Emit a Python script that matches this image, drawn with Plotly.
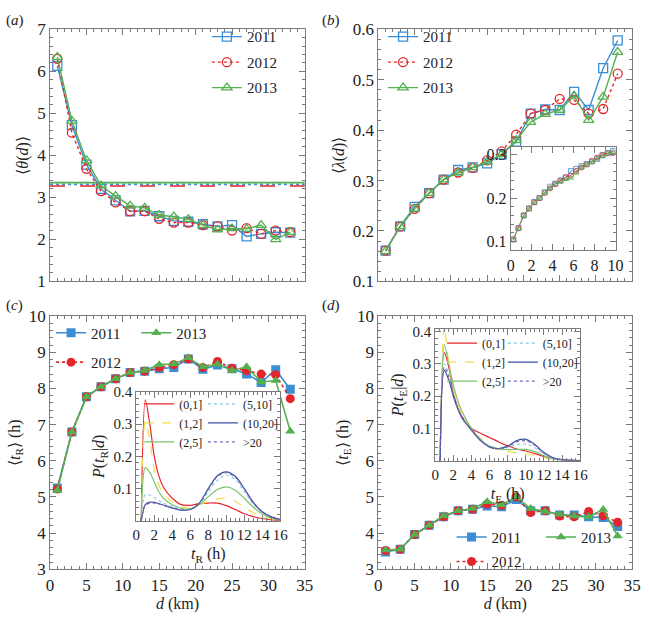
import plotly.graph_objects as go

# ---------------- data ----------------
years = ["2011", "2012", "2013"]
d_km = [1, 3, 5, 7, 9, 11, 13, 15, 17, 19, 21, 23, 25, 27, 29, 31, 33]

theta_2011 = [6.13, 4.72, 3.78, 3.20, 2.93, 2.67, 2.68, 2.55, 2.44, 2.42, 2.36, 2.31, 2.34, 2.07, 2.13, 2.17, 2.16]
theta_2012 = [6.30, 4.54, 3.68, 3.15, 2.88, 2.67, 2.67, 2.49, 2.40, 2.40, 2.34, 2.31, 2.21, 2.27, 2.13, 2.21, 2.17]
theta_2013 = [6.34, 4.82, 3.88, 3.28, 3.03, 2.80, 2.75, 2.58, 2.54, 2.48, 2.34, 2.23, 2.26, 2.25, 2.34, 2.00, 2.17]
theta_avg = [3.31, 3.27, 3.35]

lambda_2011 = [0.161, 0.209, 0.248, 0.275, 0.302, 0.321, 0.326, 0.334, 0.352, 0.377, 0.433, 0.441, 0.440, 0.476, 0.440, 0.523, 0.578]
lambda_2012 = [0.161, 0.209, 0.244, 0.275, 0.302, 0.316, 0.325, 0.340, 0.358, 0.391, 0.433, 0.440, 0.462, 0.460, 0.433, 0.442, 0.512]
lambda_2013 = [0.160, 0.209, 0.244, 0.275, 0.302, 0.316, 0.326, 0.337, 0.352, 0.380, 0.416, 0.432, 0.440, 0.468, 0.420, 0.466, 0.555]

lam_in_d = [0.25, 0.75, 1.25, 1.75, 2.25, 2.75, 3.25, 3.75, 4.25, 4.75,
            5.25, 5.75, 6.25, 6.75, 7.25, 7.75, 8.25, 8.75, 9.25, 9.75]
lam_in_2011 = [0.105, 0.131, 0.160, 0.176, 0.191, 0.200, 0.213, 0.226, 0.233, 0.240,
               0.247, 0.262, 0.267, 0.273, 0.278, 0.284, 0.290, 0.298, 0.303, 0.308]
lam_in_2012 = [0.105, 0.131, 0.160, 0.176, 0.190, 0.200, 0.212, 0.222, 0.232, 0.240,
               0.248, 0.252, 0.262, 0.270, 0.277, 0.285, 0.293, 0.299, 0.303, 0.303]
lam_in_2013 = [0.104, 0.130, 0.160, 0.175, 0.190, 0.200, 0.212, 0.222, 0.232, 0.238,
               0.243, 0.246, 0.258, 0.270, 0.277, 0.283, 0.290, 0.297, 0.302, 0.306]

tR_2011 = [5.25, 6.80, 7.77, 8.05, 8.27, 8.44, 8.48, 8.55, 8.58, 8.82, 8.53, 8.65, 8.55, 8.40, 8.17, 8.52, 7.98]
tR_2012 = [5.22, 6.80, 7.77, 8.05, 8.27, 8.44, 8.48, 8.58, 8.66, 8.82, 8.58, 8.75, 8.56, 8.50, 8.40, 8.38, 7.72]
tR_2013 = [5.18, 6.80, 7.77, 8.05, 8.27, 8.44, 8.50, 8.66, 8.68, 8.85, 8.60, 8.67, 8.50, 8.60, 8.18, 8.22, 6.82]

tE_2011 = [3.48, 3.55, 3.96, 4.22, 4.45, 4.62, 4.66, 4.75, 4.73, 4.93, 4.62, 4.62, 4.50, 4.50, 4.45, 4.43, 4.18]
tE_2012 = [3.52, 3.55, 3.96, 4.22, 4.45, 4.62, 4.66, 4.80, 4.77, 5.00, 4.57, 4.62, 4.47, 4.45, 4.60, 4.48, 4.30]
tE_2013 = [3.53, 3.55, 3.96, 4.22, 4.48, 4.62, 4.68, 4.87, 4.78, 5.00, 4.68, 4.60, 4.52, 4.47, 4.45, 4.65, 3.92]

d_bins = ["(0,1]", "(1,2]", "(2,5]", "(5,10]", "(10,20]", ">20"]
t_hours = [0.55, 1.0, 1.5, 2, 2.5, 3, 4, 5, 6, 7, 8, 9, 10, 11, 12, 13, 14, 15, 16]

pR_0_1   = [0, 0.375, 0.30, 0.20, 0.14, 0.105, 0.070, 0.050, 0.048, 0.053, 0.055, 0.055, 0.047, 0.035, 0.022, 0.013, 0.007, 0.003, 0.001]
pR_1_2   = [0, 0.310, 0.25, 0.16, 0.11, 0.085, 0.058, 0.043, 0.040, 0.050, 0.060, 0.068, 0.070, 0.060, 0.042, 0.025, 0.013, 0.006, 0.002]
pR_2_5   = [0, 0.165, 0.15, 0.12, 0.09, 0.070, 0.050, 0.039, 0.037, 0.050, 0.075, 0.097, 0.105, 0.095, 0.070, 0.042, 0.021, 0.009, 0.003]
pR_5_10  = [0, 0.082, 0.080, 0.072, 0.062, 0.055, 0.044, 0.036, 0.036, 0.052, 0.090, 0.125, 0.142, 0.128, 0.092, 0.052, 0.026, 0.011, 0.004]
pR_10_20 = [0, 0.050, 0.058, 0.057, 0.053, 0.049, 0.040, 0.033, 0.035, 0.055, 0.100, 0.140, 0.152, 0.138, 0.100, 0.057, 0.028, 0.012, 0.004]
pR_20    = [0, 0.048, 0.055, 0.055, 0.052, 0.048, 0.040, 0.033, 0.035, 0.053, 0.097, 0.137, 0.149, 0.135, 0.098, 0.055, 0.027, 0.011, 0.004]

pE_0_1   = [0, 0.335, 0.29, 0.21, 0.165, 0.135, 0.100, 0.085, 0.072, 0.058, 0.046, 0.036, 0.030, 0.022, 0.013, 0.006, 0.002, 0.001, 0]
pE_1_2   = [0, 0.420, 0.30, 0.22, 0.170, 0.140, 0.095, 0.070, 0.045, 0.033, 0.028, 0.025, 0.022, 0.016, 0.009, 0.004, 0.001, 0, 0]
pE_2_5   = [0, 0.360, 0.30, 0.235, 0.185, 0.150, 0.100, 0.065, 0.045, 0.037, 0.034, 0.035, 0.035, 0.028, 0.015, 0.006, 0.002, 0.001, 0]
pE_5_10  = [0, 0.300, 0.27, 0.21, 0.165, 0.135, 0.095, 0.065, 0.043, 0.038, 0.042, 0.050, 0.052, 0.040, 0.020, 0.008, 0.003, 0.001, 0]
pE_10_20 = [0, 0.280, 0.25, 0.20, 0.160, 0.130, 0.095, 0.062, 0.042, 0.037, 0.045, 0.062, 0.066, 0.050, 0.025, 0.009, 0.003, 0.001, 0]
pE_20    = [0, 0.290, 0.26, 0.205, 0.162, 0.132, 0.095, 0.063, 0.042, 0.037, 0.044, 0.058, 0.062, 0.047, 0.023, 0.008, 0.003, 0.001, 0]

# ---------------- style ----------------
FONT = "Liberation Serif, Times New Roman, Times, serif"
C_BLUE, C_RED, C_GREEN = "#3b8ed3", "#e4262c", "#55b04f"
year_colors = [C_BLUE, C_RED, C_GREEN]
year_dash = ["solid", "dot", "solid"]
open_sym = ["square-open", "circle-open", "triangle-up-open"]
fill_sym = ["square", "circle", "triangle-up"]
bin_colors = ["#e8262b", "#f0dc50", "#7cc46a", "#86c7e0", "#3b4ea0", "#7a66b8"]
bin_dash = ["solid", "dash", "solid", "dot", "solid", "dot"]
AX = "#7a7a7a"

fig = go.Figure()

# (a) mean lines
for i in range(3):
    fig.add_trace(go.Scatter(x=[0, 35], y=[theta_avg[i]] * 2, mode="lines", showlegend=False,
                             line=dict(color=year_colors[i], width=1.6,
                                       dash=["dot", "longdash", "solid"][i]),
                             xaxis="x", yaxis="y", legend="legend",
                             legendgroup="a" + years[i], hoverinfo="skip"))
# (a)
for i, ys in enumerate([theta_2011, theta_2012, theta_2013]):
    fig.add_trace(go.Scatter(x=d_km, y=ys, name=years[i], mode="lines+markers",
                             line=dict(color=year_colors[i], width=1.4, dash=year_dash[i]),
                             marker=dict(symbol=open_sym[i], size=9, line=dict(width=1.3, color=year_colors[i])),
                             xaxis="x", yaxis="y", legend="legend",
                             legendgroup="a" + years[i]))
# (b)
for i, ys in enumerate([lambda_2011, lambda_2012, lambda_2013]):
    fig.add_trace(go.Scatter(x=d_km, y=ys, name=years[i], mode="lines+markers",
                             line=dict(color=year_colors[i], width=1.4, dash=year_dash[i]),
                             marker=dict(symbol=open_sym[i], size=9, line=dict(width=1.3, color=year_colors[i])),
                             xaxis="x2", yaxis="y2", legend="legend2",
                             legendgroup="b" + years[i]))
# (b) inset
for i, ys in enumerate([lam_in_2011, lam_in_2012, lam_in_2013]):
    fig.add_trace(go.Scatter(x=lam_in_d, y=ys, name=years[i], mode="lines+markers", showlegend=False,
                             line=dict(color=year_colors[i], width=0.8),
                             marker=dict(symbol=open_sym[i], size=5, line=dict(width=0.8, color=year_colors[i])),
                             xaxis="x5", yaxis="y5", legend="legend2", legendgroup="b" + years[i]))
# (c)
c_leg = ["legend3", "legend5", "legend4"]
for i, ys in enumerate([tR_2011, tR_2012, tR_2013]):
    fig.add_trace(go.Scatter(x=d_km, y=ys, name=years[i], mode="lines+markers",
                             line=dict(color=year_colors[i], width=1.6, dash=year_dash[i]),
                             marker=dict(symbol=fill_sym[i], size=9, color=year_colors[i]),
                             xaxis="x3", yaxis="y3", legend=c_leg[i]))
# (d)
d_leg = ["legend6", "legend8", "legend7"]
for i, ys in enumerate([tE_2011, tE_2012, tE_2013]):
    fig.add_trace(go.Scatter(x=d_km, y=ys, name=years[i], mode="lines+markers",
                             line=dict(color=year_colors[i], width=1.6, dash=year_dash[i]),
                             marker=dict(symbol=fill_sym[i], size=9, color=year_colors[i]),
                             xaxis="x4", yaxis="y4", legend=d_leg[i]))
# (c) inset
for i, ys in enumerate([pR_0_1, pR_1_2, pR_2_5, pR_5_10, pR_10_20, pR_20]):
    fig.add_trace(go.Scatter(x=t_hours, y=ys, name=d_bins[i], mode="lines",
                             line=dict(color=bin_colors[i], width=1.2, dash=bin_dash[i],
                                       shape="spline", smoothing=0.8),
                             xaxis="x6", yaxis="y6", legend="legend9" if i < 3 else "legend10"))
# (d) inset
for i, ys in enumerate([pE_0_1, pE_1_2, pE_2_5, pE_5_10, pE_10_20, pE_20]):
    fig.add_trace(go.Scatter(x=t_hours, y=ys, name=d_bins[i], mode="lines",
                             line=dict(color=bin_colors[i], width=1.2, dash=bin_dash[i],
                                       shape="spline", smoothing=0.8),
                             xaxis="x7", yaxis="y7", legend="legend11" if i < 3 else "legend12"))


def axis(domain, rng, dtick, minor, anchor, labels=True, title=None, tsize=17, tickvals=None, standoff=4):
    a = dict(domain=domain, range=rng, anchor=anchor, showline=True, linecolor=AX, linewidth=1,
             mirror="allticks", ticks="inside", ticklen=6, tickcolor=AX, tickwidth=1,
             showgrid=False, zeroline=False, showticklabels=labels,
             tickfont=dict(size=tsize, color="#222", family=FONT),
             minor=dict(ticks="inside", ticklen=3, dtick=minor, tickcolor=AX, showgrid=False))
    if tickvals is not None:
        a["tickvals"] = tickvals
    else:
        a["dtick"] = dtick
        a["tick0"] = 0
    if title:
        a["title"] = dict(text=title, font=dict(size=16, color="#222", family=FONT), standoff=standoff)
    return a


XL = [0.0724, 0.4730]
XR = [0.5886, 0.9877]
YT = [0.5453, 0.9660]
YB = [0.0647, 0.4871]

dkm = "<i>d</i> (km)"
layout = dict(
    width=649, height=618, margin=dict(l=0, r=0, t=0, b=0),
    paper_bgcolor="white", plot_bgcolor="white",
    font=dict(family=FONT, color="#222"),
    xaxis=axis(XL, [0, 35], 5, 1, "y", labels=False),
    yaxis=axis(YT, [1, 7], 1, 0.2, "x", title="⟨<i>θ</i>(<i>d</i>)⟩"),
    xaxis2=axis(XR, [0, 35], 5, 1, "y2", labels=False),
    yaxis2=axis(YT, [0.1, 0.6], 0.1, 0.02, "x2", title="⟨<i>λ</i>(<i>d</i>)⟩", tickvals=[0.1, 0.2, 0.3, 0.4, 0.5, 0.6]),
    xaxis3=axis(XL, [0, 35], 5, 1, "y3", title=dkm),
    yaxis3=axis(YB, [3, 10], 1, 0.2, "x3", title="⟨<i>t</i><sub>R</sub>⟩ (h)"),
    xaxis4=axis(XR, [0, 35], 5, 1, "y4", title=dkm),
    yaxis4=axis(YB, [3, 10], 1, 0.2, "x4", title="⟨<i>t</i><sub>E</sub>⟩ (h)"),
    xaxis5=axis([0.7966, 0.9615], [0, 10], 2, 1, "y5", tsize=16),
    yaxis5=axis([0.5971, 0.7702], [0.08, 0.318], 0.1, 0.02, "x5", tsize=16, tickvals=[0.1, 0.2, 0.3]),
    xaxis6=axis([0.2080, 0.4345], [0, 16], 2, 0.5, "y6", tsize=15, title="<i>t</i><sub>R</sub> (h)", standoff=6),
    yaxis6=axis([0.1456, 0.3608], [0, 0.4], 0.1, 0.02, "x6", tsize=15, tickvals=[0.1, 0.2, 0.3, 0.4],
                title="<i>P</i>(<i>t</i><sub>R</sub>|<i>d</i>)"),
    xaxis7=axis([0.6780, 0.9060], [0, 16], 2, 0.5, "y7", tsize=15, title="<i>t</i><sub>E</sub> (h)", standoff=6),
    yaxis7=axis([0.2460, 0.4660], [0, 0.409], 0.1, 0.02, "x7", tsize=15, tickvals=[0.1, 0.2, 0.3, 0.4],
                title="<i>P</i>(<i>t</i><sub>E</sub>|<i>d</i>)"),
)


def leg(x, y, size=15, yanchor="top", gap=None):
    d = dict(x=x, y=y, xanchor="left", yanchor=yanchor, bgcolor="rgba(0,0,0,0)",
             borderwidth=0, font=dict(size=size, family=FONT, color="#222"))
    if gap is not None:
        d.update(traceorder="grouped", tracegroupgap=gap)
    else:
        d.update(traceorder="normal")
    return d


layout.update(
    legend=leg(0.319, 0.981, gap=3),
    legend2=leg(0.596, 0.981, gap=3),
    legend3=leg(0.074, 0.4590, yanchor="middle"),
    legend4=leg(0.208, 0.4590, yanchor="middle"),
    legend5=leg(0.074, 0.4100, yanchor="middle"),
    legend6=leg(0.7037, 0.1181, yanchor="middle"),
    legend7=leg(0.8444, 0.1181, yanchor="middle"),
    legend8=leg(0.7037, 0.0772, yanchor="middle"),
    legend9=leg(0.2126, 0.3650, size=12),
    legend10=leg(0.3128, 0.3650, size=12),
    legend11=leg(0.6888, 0.4665, size=12),
    legend12=leg(0.7843, 0.4665, size=12),
)

panel_labels = ["(<i>a</i>)", "(<i>b</i>)", "(<i>c</i>)", "(<i>d</i>)"]
panel_pos = [(0.0, 0.998), (0.497, 0.998), (0.0, 0.522), (0.497, 0.522)]
layout["annotations"] = [dict(text=t, x=p[0], y=p[1], xref="paper", yref="paper", xanchor="left",
                              yanchor="top", showarrow=False, font=dict(size=15, family=FONT, color="#222"))
                         for t, p in zip(panel_labels, panel_pos)]

fig.update_layout(**layout)
fig.write_html("out.html", config={"displayModeBar": False},
               post_script="document.body.style.margin='0';")
